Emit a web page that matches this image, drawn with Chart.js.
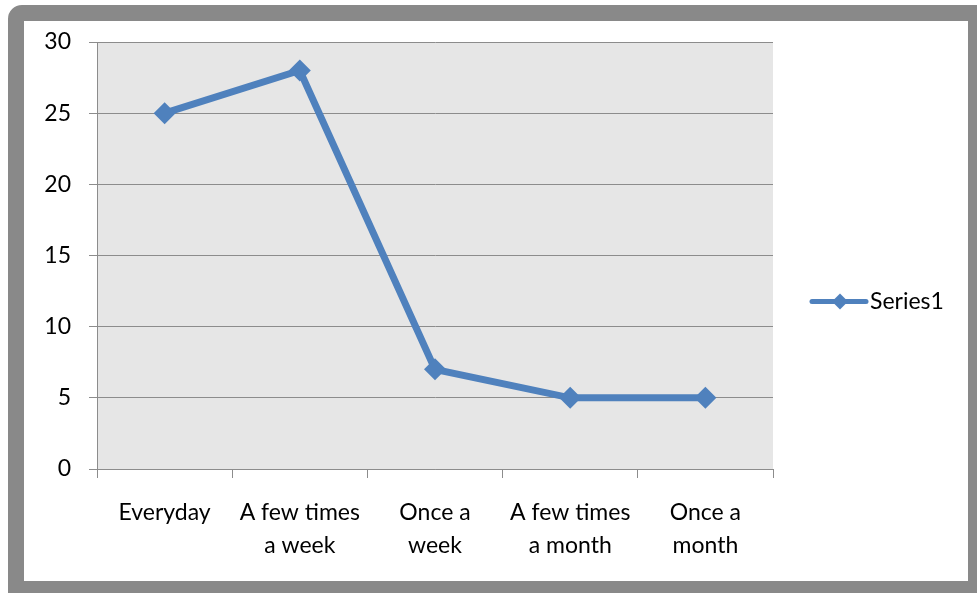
<!DOCTYPE html>
<html>
<head>
<meta charset="utf-8">
<script src="https://cdn.jsdelivr.net/npm/chart.js@4/dist/chart.umd.min.js"></script>
<style>
  html, body { margin: 0; padding: 0; background: #ffffff; overflow: hidden; }
  #frame {
    position: absolute; left: 8px; top: 5px;
    width: 944px; height: 560px;
    border-style: solid; border-color: #898989;
    border-width: 16px 9px 12px 16px;
    border-top-left-radius: 14px;
    background: #ffffff;
  }
  #wrap { position: absolute; left: 0; top: 0; width: 944px; height: 560px; }
</style>
</head>
<body>
<div id="frame"><div id="wrap"><canvas id="chart"></canvas></div></div>
<script>
// Frequency categories and counts
const categories = [['Everyday'], ['A few times', 'a week'], ['Once a', 'week'], ['A few times', 'a month'], ['Once a', 'month']];
const series1 = [25, 28, 7, 5, 5];
const seriesName = 'Series1';

const blue = '#4f81bd';
const gridGray = '#8c8c8c';
const labelFont = { family: 'Lato, "Open Sans", sans-serif', size: 23, lineHeight: 1.43 };

// grey fill behind the plot
const plotBackground = {
  id: 'plotBackground',
  beforeDraw(chart) {
    const { ctx, chartArea } = chart;
    ctx.save();
    ctx.fillStyle = '#e6e6e6';
    ctx.fillRect(chartArea.left, chartArea.top, chartArea.right - chartArea.left, chartArea.bottom - chartArea.top);
    ctx.restore();
  }
};

// legend with a line + diamond sample, placed to the right of the plot
const lineLegend = {
  id: 'lineLegend',
  afterDraw(chart) {
    const { ctx, chartArea } = chart;
    const ds = chart.data.datasets[0];
    const y = (chartArea.top + chartArea.bottom) / 2 + 46;
    const x0 = chartArea.right + 39;
    ctx.save();
    ctx.strokeStyle = ds.borderColor;
    ctx.lineWidth = 5;
    ctx.lineCap = 'round';
    ctx.beginPath();
    ctx.moveTo(x0, y);
    ctx.lineTo(x0 + 54, y);
    ctx.stroke();
    ctx.fillStyle = ds.borderColor;
    ctx.beginPath();
    ctx.moveTo(x0 + 28, y - 8); ctx.lineTo(x0 + 36, y); ctx.lineTo(x0 + 28, y + 8); ctx.lineTo(x0 + 20, y);
    ctx.closePath();
    ctx.fill();
    ctx.fillStyle = '#000000';
    ctx.font = labelFont.size + 'px ' + labelFont.family;
    ctx.textBaseline = 'middle';
    ctx.textAlign = 'left';
    ctx.fillText(ds.label, x0 + 58, y);
    ctx.restore();
  }
};

new Chart(document.getElementById('chart'), {
  type: 'line',
  data: {
    labels: categories,
    datasets: [{
      label: seriesName,
      data: series1,
      borderColor: blue,
      backgroundColor: blue,
      borderWidth: 7,
      pointStyle: 'rectRot',
      pointRadius: 11,
      pointHoverRadius: 11,
      pointBorderWidth: 0,
      pointBackgroundColor: blue,
      tension: 0
    }]
  },
  options: {
    responsive: true,
    maintainAspectRatio: false,
    animation: false,
    layout: { padding: { top: 0, right: 195, bottom: 0, left: 0 } },
    plugins: { legend: { display: false }, tooltip: { enabled: false } },
    scales: {
      x: {
        offset: true,
        grid: { offset: true, drawOnChartArea: false, drawTicks: true, tickLength: 9, color: gridGray },
        border: { color: gridGray, width: 1 },
        ticks: { color: '#000000', font: labelFont, padding: 18, maxRotation: 0, autoSkip: false },
        afterFit(scale) { scale.height = 112; }
      },
      y: {
        min: 0,
        max: 30,
        ticks: { stepSize: 5, color: '#000000', font: labelFont, padding: 18 },
        grid: { color: gridGray, tickLength: 8, drawTicks: true },
        border: { color: gridGray, width: 1 },
        afterFit(scale) {
          scale.width = 73;
          scale.paddingTop = 21;
          scale.paddingBottom = 0;
        }
      }
    }
  },
  plugins: [plotBackground, lineLegend]
});
</script>
</body>
</html>
